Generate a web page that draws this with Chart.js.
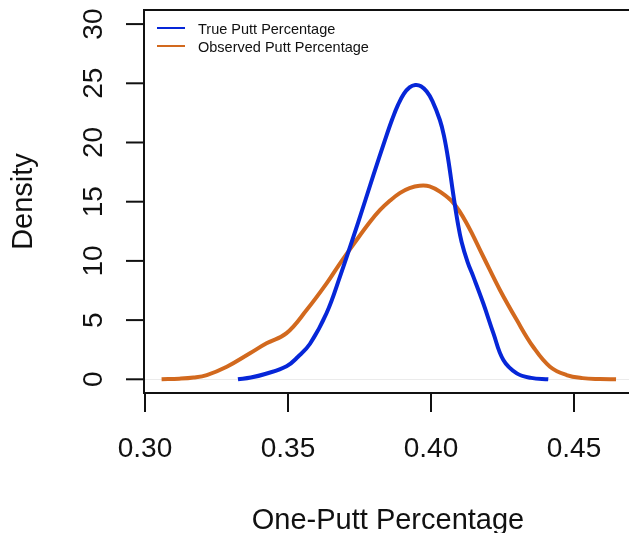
<!DOCTYPE html>
<html><head><meta charset="utf-8">
<script src="https://cdn.jsdelivr.net/npm/chart.js@4.4.1/dist/chart.umd.min.js"></script>
<style>html,body{margin:0;padding:0;background:#fff;overflow:hidden}#wrap{width:629px;height:533px}</style>
</head><body><div id="wrap"><canvas id="c" width="629" height="533"></canvas></div>
<script>
// ---- data ----
const seriesLabels = ['True Putt Percentage', 'Observed Putt Percentage'];
const trueX = [0.3325,0.337,0.342,0.3495,0.3535,0.3577,0.3635,0.3682,0.3746,0.3798,0.3839,0.3865,0.3885,0.3905,0.3925,0.3945,0.3965,0.3985,0.4005,0.4031,0.4045,0.406,0.4078,0.4093,0.4107,0.4128,0.4148,0.4183,0.4218,0.4253,0.43,0.435,0.441];
const trueY = [0,0.15,0.45,1.1,1.9,3.0,5.6,8.7,13.3,17.2,20.2,22.0,23.2,24.1,24.65,24.85,24.75,24.3,23.5,21.9,20.6,18.6,15.6,13.3,11.6,9.9,8.67,6.4,3.9,1.63,0.5,0.12,0];
const obsX = [0.3058,0.312,0.317,0.3216,0.3286,0.3367,0.3425,0.3495,0.3565,0.3635,0.3682,0.3735,0.3787,0.3822,0.3857,0.3892,0.3925,0.396,0.3995,0.4031,0.4078,0.4124,0.4183,0.4241,0.43,0.4357,0.4416,0.4474,0.453,0.459,0.4647];
const obsY = [0,0.05,0.15,0.36,1.06,2.2,3.04,3.9,5.85,8.1,9.8,11.6,13.3,14.3,15.1,15.75,16.15,16.35,16.3,15.85,14.9,13.2,10.35,7.54,5.0,2.75,1.06,0.36,0.1,0.02,0];
const xTicks = [0.30, 0.35, 0.40, 0.45];
const xTickLabels = ['0.30', '0.35', '0.40', '0.45'];
const yTicks = [0, 5, 10, 15, 20, 25, 30];
const yTickLabels = ['0', '5', '10', '15', '20', '25', '30'];
const xTitle = 'One-Putt Percentage';
const yTitle = 'Density';
const colors = ['#0626d8', '#d2691e'];

const pts = (xs, ys) => xs.map((x, i) => ({x: x, y: ys[i]}));
const FONT = '"Liberation Sans", Arial, Helvetica, sans-serif';

const rPlot = {
  id: 'rPlot',
  beforeDatasetsDraw(chart) {
    const {ctx, chartArea: a, scales: {y}} = chart;
    const y0 = Math.round(y.getPixelForValue(0)) + 0.5;
    ctx.save();
    ctx.strokeStyle = '#ebebeb';
    ctx.lineWidth = 1;
    ctx.beginPath(); ctx.moveTo(a.left, y0); ctx.lineTo(a.right, y0); ctx.stroke();
    ctx.restore();
  },
  afterDraw(chart) {
    const {ctx, chartArea: a, scales: {x, y}} = chart;
    ctx.save();
    ctx.strokeStyle = '#111';
    ctx.fillStyle = '#111';
    ctx.lineWidth = 2;
    // box (left, top, bottom)
    ctx.beginPath();
    ctx.moveTo(a.right + 2, a.top); ctx.lineTo(a.left, a.top);
    ctx.lineTo(a.left, a.bottom); ctx.lineTo(a.right + 2, a.bottom);
    ctx.stroke();
    // y ticks
    ctx.font = '28px ' + FONT;
    yTicks.forEach((v, i) => {
      const py = y.getPixelForValue(v);
      ctx.beginPath(); ctx.moveTo(a.left, py); ctx.lineTo(a.left - 18, py); ctx.stroke();
      ctx.save();
      ctx.translate(102, py);
      ctx.rotate(-Math.PI / 2);
      ctx.textAlign = 'center'; ctx.textBaseline = 'alphabetic';
      ctx.fillText(yTickLabels[i], 0, 0);
      ctx.restore();
    });
    // x ticks
    xTicks.forEach((v, i) => {
      const px = x.getPixelForValue(v);
      ctx.beginPath(); ctx.moveTo(px, a.bottom); ctx.lineTo(px, a.bottom + 19); ctx.stroke();
      ctx.textAlign = 'center'; ctx.textBaseline = 'alphabetic';
      ctx.fillText(xTickLabels[i], px, 457);
    });
    // titles
    ctx.font = '29px ' + FONT;
    ctx.textAlign = 'center'; ctx.textBaseline = 'alphabetic';
    ctx.fillText(xTitle, 388, 529);
    ctx.save();
    ctx.translate(32, (a.top + a.bottom) / 2);
    ctx.rotate(-Math.PI / 2);
    ctx.fillText(yTitle, 0, 0);
    ctx.restore();
    // legend
    ctx.font = '14.5px ' + FONT;
    ctx.textAlign = 'left';
    const ly = [28, 46], lb = [34, 51.5];
    seriesLabels.forEach((lab, i) => {
      ctx.strokeStyle = colors[i];
      ctx.lineWidth = 2;
      ctx.beginPath(); ctx.moveTo(157, ly[i]); ctx.lineTo(185, ly[i]); ctx.stroke();
      ctx.fillStyle = '#111';
      ctx.fillText(lab, 198, lb[i]);
    });
    ctx.restore();
  }
};

new Chart(document.getElementById('c'), {
  type: 'line',
  data: {
    datasets: [
      {label: seriesLabels[0], data: pts(trueX, trueY), borderColor: colors[0], borderWidth: 4, pointRadius: 0, tension: 0.4, fill: false},
      {label: seriesLabels[1], data: pts(obsX, obsY), borderColor: colors[1], borderWidth: 4, pointRadius: 0, tension: 0.4, fill: false}
    ]
  },
  options: {
    responsive: false,
    animation: false,
    devicePixelRatio: 1,
    layout: {padding: {left: 144, top: 10, right: 0, bottom: 140}},
    plugins: {legend: {display: false}, tooltip: {enabled: false}},
    scales: {
      x: {type: 'linear', display: false, min: 0.29965, max: 0.46923},
      y: {type: 'linear', display: false, min: -1.157, max: 31.19}
    }
  },
  plugins: [rPlot]
});
</script>
</body></html>
